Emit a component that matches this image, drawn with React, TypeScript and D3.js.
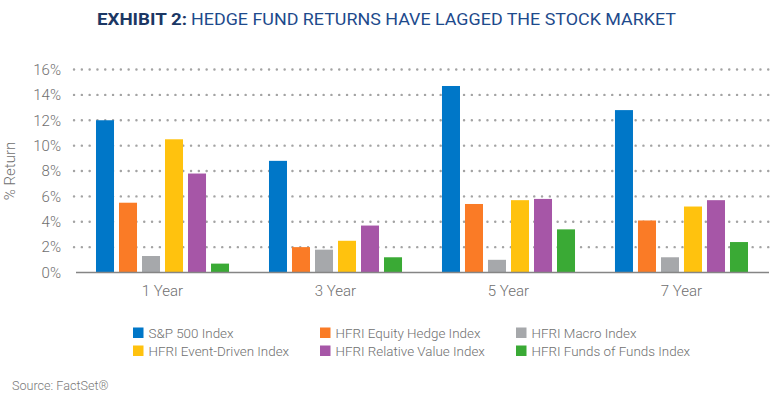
import React from "react";
import * as d3 from "d3";

const categories = ["1 Year", "3 Year", "5 Year", "7 Year"];
const seriesNames = [
  "S&P 500 Index",
  "HFRI Equity Hedge Index",
  "HFRI Macro Index",
  "HFRI Event-Driven Index",
  "HFRI Relative Value Index",
  "HFRI Funds of Funds Index",
];
const seriesColors = ["#0077c8", "#fa7b26", "#a6a8ab", "#ffc20e", "#a656a7", "#3aaa35"];

const sp500 = [12.0, 8.8, 14.7, 12.8];
const equityHedge = [5.5, 2.0, 5.4, 4.1];
const macro = [1.3, 1.8, 1.0, 1.2];
const eventDriven = [10.5, 2.5, 5.7, 5.2];
const relativeValue = [7.8, 3.7, 5.8, 5.7];
const fundsOfFunds = [0.7, 1.2, 3.4, 2.4];

const yTicks = [0, 2, 4, 6, 8, 10, 12, 14, 16];

const W = 775;
const H = 397;
const FONT = "Roboto, 'Liberation Sans', sans-serif";

const App: React.FC = () => {
  const values = [sp500, equityHedge, macro, eventDriven, relativeValue, fundsOfFunds];

  const x0 = d3
    .scaleBand<string>()
    .domain(categories)
    .range([76, 768])
    .paddingInner(0.231)
    .paddingOuter(0.1156);

  const x1 = d3
    .scaleBand<string>()
    .domain(seriesNames)
    .range([0, x0.bandwidth()])
    .paddingInner(0.217)
    .paddingOuter(0);

  const y = d3.scaleLinear().domain([0, 16]).range([272.5, 69.5]);

  const legendCols = [133, 320, 516];
  const legendRows = [327.5, 345.5];

  return (
    <svg
      width={W}
      height={H}
      style={{ position: "absolute", left: 0, top: 0, background: "#fff" }}
    >
      {/* title */}
      <text
        x={97}
        y={25}
        fontFamily={FONT}
        fontWeight={700}
        fontSize={17}
        fill="#1b3764"
        textLength={90}
        lengthAdjust="spacingAndGlyphs"
      >
        EXHIBIT 2:
      </text>
      <text
        x={191}
        y={25}
        fontFamily={FONT}
        fontSize={17}
        fill="#1d4a8c"
        textLength={485}
        lengthAdjust="spacingAndGlyphs"
      >
        HEDGE FUND RETURNS HAVE LAGGED THE STOCK MARKET
      </text>

      {/* grid */}
      {yTicks
        .filter((t) => t > 0)
        .map((t) => (
          <line
            key={t}
            x1={74}
            x2={769}
            y1={y(t)}
            y2={y(t)}
            stroke="#a3a3a3"
            strokeWidth={2.4}
            strokeLinecap="round"
            strokeDasharray="0.1 7.7"
          />
        ))}

      {/* y ticks */}
      {yTicks.map((t) => (
        <text
          key={t}
          x={61}
          y={y(t)}
          dy="0.35em"
          textAnchor="end"
          fontFamily={FONT}
          fontWeight={300}
          fontSize={15}
          fill="#6f6f6f"
        >
          {t}%
        </text>
      ))}

      <text
        transform={`translate(15,${171}) rotate(-90)`}
        textAnchor="middle"
        fontFamily={FONT}
        fontWeight={300}
        fontSize={15}
        fill="#6f6f6f"
      >
        % Return
      </text>

      {/* bars */}
      {categories.map((c, ci) => (
        <g key={c} transform={`translate(${x0(c)},0)`}>
          {seriesNames.map((s, si) => (
            <rect
              key={s}
              x={x1(s)}
              y={y(values[si][ci])}
              width={x1.bandwidth()}
              height={y(0) - y(values[si][ci])}
              fill={seriesColors[si]}
            />
          ))}
        </g>
      ))}

      {/* baseline */}
      <line x1={76} x2={769} y1={y(0)} y2={y(0)} stroke="#858585" strokeWidth={1.5} />

      {/* category labels */}
      {categories.map((c) => (
        <text
          key={c}
          x={(x0(c) ?? 0) + x0.bandwidth() / 2}
          y={296}
          textAnchor="middle"
          fontFamily={FONT}
          fontWeight={300}
          fontSize={15}
          fill="#6f6f6f"
        >
          {c}
        </text>
      ))}

      {/* legend */}
      {seriesNames.map((s, i) => {
        const lx = legendCols[i % 3];
        const ly = legendRows[Math.floor(i / 3)];
        return (
          <g key={s} transform={`translate(${lx},${ly})`}>
            <rect width={10.5} height={10.5} fill={seriesColors[i]} />
            <text
              x={15.5}
              y={5.5}
              dy="0.35em"
              fontFamily={FONT}
              fontWeight={300}
              fontSize={13.4}
              fill="#6f6f6f"
            >
              {s}
            </text>
          </g>
        );
      })}

      <text x={12} y={390} fontFamily={FONT} fontWeight={300} fontSize={12.6} fill="#7a7a7a">
        Source: FactSet®
      </text>
    </svg>
  );
};

export default App;
